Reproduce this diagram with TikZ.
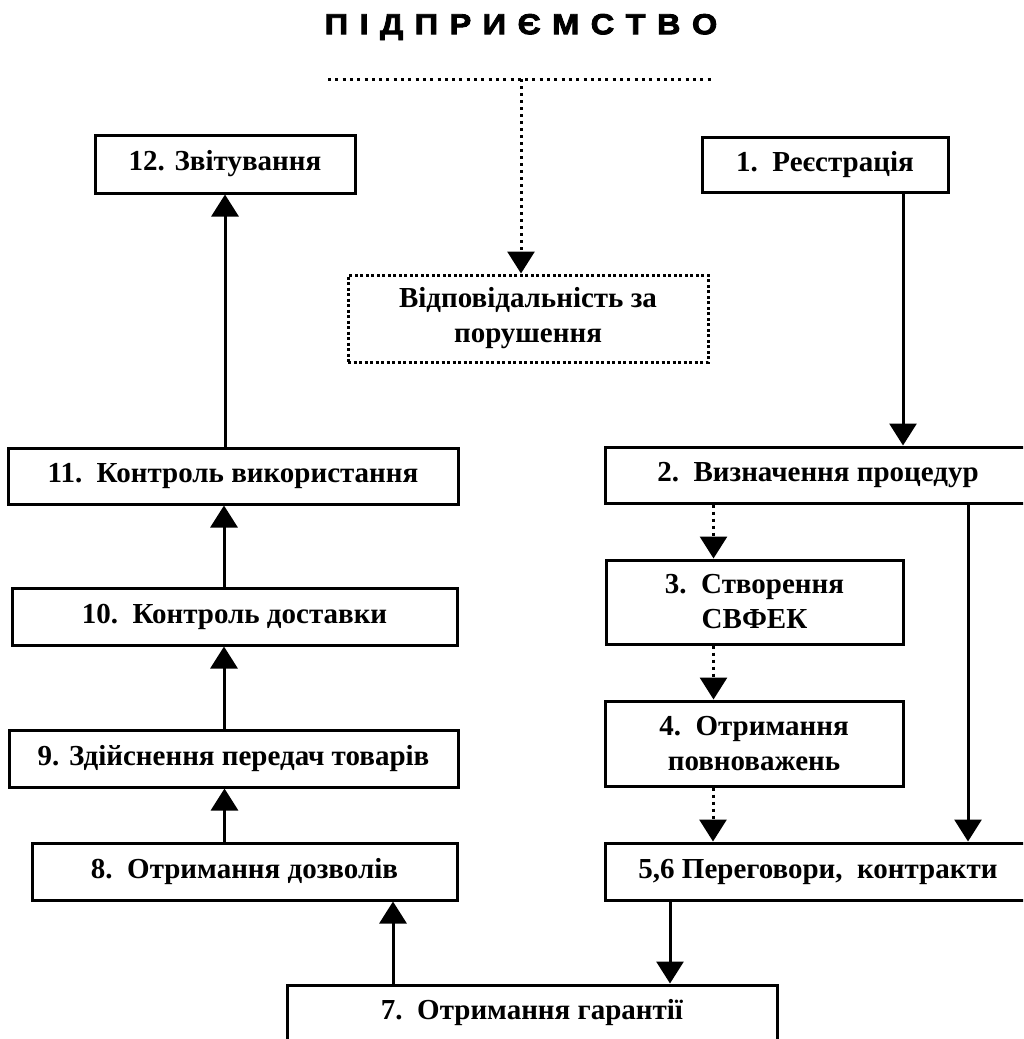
\documentclass[tikz,border=0pt]{standalone}
\usepackage{fontspec}
\setmainfont{Liberation Serif}
\newfontfamily\titlefont[FakeBold=3,FakeStretch=1.12]{Liberation Sans Bold}
\usepackage{tikz}
\usetikzlibrary{arrows.meta,positioning}

\begin{document}
\begin{tikzpicture}[
    x=1pt, y=-1pt,
    every node/.style={inner sep=0pt},
    stage/.style={draw=black, line width=3pt, fill=white, align=center,
        font=\fontsize{29}{35}\selectfont\bfseries},
    stagedot/.style={stage, line width=3pt, dash pattern=on 3pt off 2.5pt},
    flow/.style={line width=3pt, -{Triangle[width=27pt,length=22pt]}},
    flowdot/.style={flow, dash pattern=on 3pt off 4pt}
]

\useasboundingbox (0,0) rectangle (1023,1039);
\clip (0,0) rectangle (1023,1039);

% Title
\node[font=\titlefont\fontsize{29}{33}\selectfont] (title) at (521,27)
    {П\hspace{11.5pt}І\hspace{11.5pt}Д\hspace{11.5pt}П\hspace{11.5pt}Р\hspace{11.5pt}И\hspace{11.5pt}Є\hspace{11.5pt}М\hspace{11.5pt}С\hspace{11.5pt}Т\hspace{11.5pt}В\hspace{11.5pt}О};

% Dotted line under the title
\coordinate (lineL) at (328,79);
\coordinate (lineR) at (713,79);
\coordinate (split) at (521,79);
\draw[line width=3pt, dash pattern=on 3pt off 4.3pt] (lineL) -- (lineR);

% Right column
\node[stage, minimum width=246pt, minimum height=55pt] (reg) at (825,164.5) {1.\ \ Реєстрація};
\node[stage, minimum width=426pt, minimum height=56pt] (proc) at (818,475) {2.\ \ Визначення процедур};
\node[stage, minimum width=297pt, minimum height=84pt] (svfek) at (754.5,602) {3.\ \ Створення\\СВФЕК};
\node[stage, minimum width=298pt, minimum height=85pt] (power) at (754,743.5) {4.\ \ Отримання\\повноважень};
\node[stage, minimum width=426pt, minimum height=57pt] (talks) at (818,871.5) {5,6 Переговори,\ \ контракти};

% Middle
\node[stagedot, minimum width=360pt, minimum height=87pt] (resp) at (528,318.5) {Відповідальність за\\порушення};
\node[stage, minimum width=490pt, minimum height=56pt] (guar) at (532,1013) {7.\ \ Отримання гарантії};

% Left column
\node[stage, minimum width=425pt, minimum height=57pt] (perm) at (244.5,871.5) {8.\ \ Отримання дозволів};
\node[stage, minimum width=449pt, minimum height=57pt] (goods) at (233.5,758.5) {9. Здійснення передач товарів};
\node[stage, minimum width=445pt, minimum height=57pt] (deliv) at (234.5,616.5) {10.\ \ Контроль доставки};
\node[stage, minimum width=450pt, minimum height=56pt] (use) at (233,476) {11.\ \ Контроль використання};
\node[stage, minimum width=260pt, minimum height=58pt] (report) at (225,164) {12. Звітування};

% Connectors
\draw[flowdot] (split) -- (split |- resp.north);
\draw[flow] ([xshift=78]reg.south) -- ([xshift=78]reg.south |- proc.north);
\draw[flow] ([xshift=150]proc.south) -- ([xshift=150]proc.south |- talks.north);
\draw[flowdot] ([xshift=-41]svfek.north |- proc.south) -- ([xshift=-41]svfek.north);
\draw[flowdot] ([xshift=-41]svfek.south) -- ([xshift=-41]svfek.south |- power.north);
\draw[flowdot] ([xshift=-41]power.south) -- ([xshift=-41]power.south |- talks.north);
\draw[flow] ([xshift=-148]talks.south) -- ([xshift=-148]talks.south |- guar.north);
\draw[flow] ([xshift=-139]guar.north) -- ([xshift=-139]guar.north |- perm.south);
\draw[flow] ([xshift=-20]perm.north) -- ([xshift=-20]perm.north |- goods.south);
\draw[flow] ([xshift=-9.5]goods.north) -- ([xshift=-9.5]goods.north |- deliv.south);
\draw[flow] ([xshift=-10.5]deliv.north) -- ([xshift=-10.5]deliv.north |- use.south);
\draw[flow] (use.north -| report.south) -- (report.south);

\end{tikzpicture}
\end{document}
